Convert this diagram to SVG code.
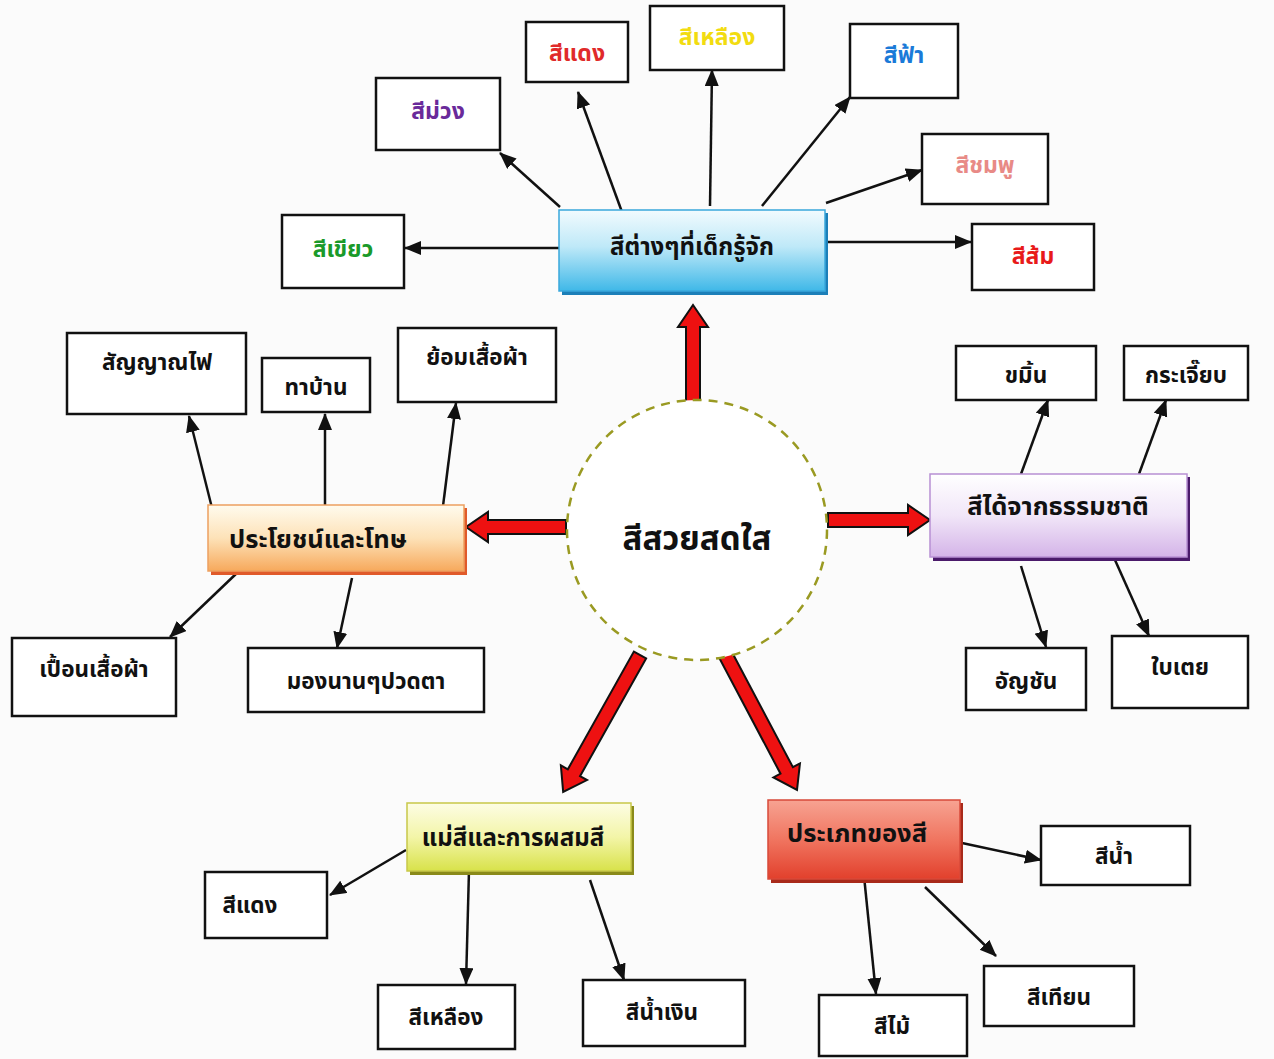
<svg xmlns="http://www.w3.org/2000/svg" width="1274" height="1059" viewBox="0 0 1274 1059">
<style>
.leaf{fill:#fff;stroke:#111;stroke-width:2.5}
.t{font-family:"Noto Sans Thai","Noto Sans","DejaVu Sans","Liberation Sans",sans-serif;font-weight:bold;text-anchor:middle;dominant-baseline:central}
.lt{font-size:22.5px;fill:#111}
.ht{font-size:25.5px;fill:#111}
.con{stroke:#111;stroke-width:2.5;fill:none;marker-end:url(#ah)}
.big{fill:#ee1111;stroke:#111;stroke-width:2;stroke-linejoin:miter}
</style>
<defs>
<marker id="ah" markerUnits="userSpaceOnUse" markerWidth="18" markerHeight="16" refX="16" refY="7" orient="auto">
<path d="M0,0 L17,7 L0,14 Z" fill="#111"/>
</marker>
<linearGradient id="gBlue" x1="0" y1="0" x2="0" y2="1"><stop offset="0" stop-color="#f2fbfe"/><stop offset="0.45" stop-color="#bfe9f8"/><stop offset="1" stop-color="#3fb8e8"/></linearGradient>
<linearGradient id="gOrange" x1="0" y1="0" x2="0" y2="1"><stop offset="0" stop-color="#fffbee"/><stop offset="0.5" stop-color="#fde2b8"/><stop offset="1" stop-color="#f7a95c"/></linearGradient>
<linearGradient id="gPurple" x1="0" y1="0" x2="0" y2="1"><stop offset="0" stop-color="#ffffff"/><stop offset="0.5" stop-color="#f1e6f8"/><stop offset="1" stop-color="#d4b4e8"/></linearGradient>
<linearGradient id="gYellow" x1="0" y1="0" x2="0" y2="1"><stop offset="0" stop-color="#fdfde4"/><stop offset="0.5" stop-color="#f3f5a8"/><stop offset="1" stop-color="#d8e24a"/></linearGradient>
<linearGradient id="gRed" x1="0" y1="0" x2="0" y2="1"><stop offset="0" stop-color="#f7a392"/><stop offset="0.5" stop-color="#f07560"/><stop offset="1" stop-color="#e2402c"/></linearGradient>
</defs>
<rect width="1274" height="1059" fill="#fbfbfb"/>

<g id="connectors">
<line class="con" x1="560" y1="248" x2="405" y2="248"/>
<line class="con" x1="560" y1="207" x2="500" y2="153"/>
<line class="con" x1="622" y1="212" x2="578" y2="92"/>
<line class="con" x1="710" y1="206" x2="712" y2="70"/>
<line class="con" x1="762" y1="206" x2="850" y2="97"/>
<line class="con" x1="826" y1="203" x2="922" y2="170"/>
<line class="con" x1="826" y1="242" x2="971" y2="242"/>
<line class="con" x1="212" y1="508" x2="189" y2="416"/>
<line class="con" x1="325" y1="507" x2="325" y2="414"/>
<line class="con" x1="443" y1="506" x2="456" y2="403"/>
<line class="con" x1="238" y1="572" x2="170" y2="637"/>
<line class="con" x1="352" y1="578" x2="337" y2="648"/>
<line class="con" x1="1021" y1="474" x2="1048" y2="400"/>
<line class="con" x1="1139" y1="474" x2="1166" y2="400"/>
<line class="con" x1="1021" y1="566" x2="1046" y2="647"/>
<line class="con" x1="1115" y1="560" x2="1149" y2="636"/>
<line class="con" x1="406" y1="850" x2="330" y2="895"/>
<line class="con" x1="469" y1="870" x2="466" y2="984"/>
<line class="con" x1="590" y1="880" x2="624" y2="980"/>
<line class="con" x1="962" y1="843" x2="1041" y2="860"/>
<line class="con" x1="864" y1="876" x2="876" y2="994"/>
<line class="con" x1="925" y1="887" x2="996" y2="956"/>
<polygon class="big" transform="translate(693,405) rotate(-90)" points="0,-7 78,-7 78,-15 100,0 78,15 78,7 0,7"/>
<polygon class="big" transform="translate(566,527) rotate(180)" points="0,-7 78,-7 78,-15 100,0 78,15 78,7 0,7"/>
<polygon class="big" transform="translate(828,520)" points="0,-7 80,-7 80,-15 102,0 80,15 80,7 0,7"/>
<polygon class="big" transform="translate(640,655) rotate(119.3)" points="0,-7 135,-7 135,-15 157,0 135,15 135,7 0,7"/>
<polygon class="big" transform="translate(724,652) rotate(62.1)" points="0,-7 134,-7 134,-15 156,0 134,15 134,7 0,7"/>
</g>

<g id="center">
<circle cx="697" cy="530" r="130" fill="#fff" stroke="#9a9a22" stroke-width="2.5" stroke-dasharray="9,7"/>
<text class="t" x="697" y="540" font-size="33" fill="#111">สีสวยสดใส</text>
</g>

<g id="hub-known">
<rect x="562" y="213" width="266" height="82" fill="#1c7fb8"/>
<rect x="559" y="210" width="266" height="81" fill="url(#gBlue)" stroke="#3aa8dc" stroke-width="1.5"/>
<text class="t" x="692" y="248" font-size="24" fill="#111">สีต่างๆที่เด็กรู้จัก</text>
</g>
<g id="n-green"><rect class="leaf" x="282" y="215" width="122" height="73"/><text class="t" x="343" y="250" font-size="23" fill="#1a9a2a">สีเขียว</text></g>
<g id="n-purple"><rect class="leaf" x="376" y="78" width="124" height="72"/><text class="t" x="438" y="112" font-size="23" fill="#6a2a9a">สีม่วง</text></g>
<g id="n-red"><rect class="leaf" x="526" y="22" width="102" height="60"/><text class="t" x="577" y="54" font-size="23" fill="#e02a2a">สีแดง</text></g>
<g id="n-yellow"><rect class="leaf" x="650" y="6" width="134" height="64"/><text class="t" x="717" y="38" font-size="23" fill="#f2dc10">สีเหลือง</text></g>
<g id="n-sky"><rect class="leaf" x="850" y="24" width="108" height="74"/><text class="t" x="904" y="56" font-size="23" fill="#1a7ad8">สีฟ้า</text></g>
<g id="n-pink"><rect class="leaf" x="922" y="134" width="126" height="70"/><text class="t" x="985" y="166" font-size="23" fill="#e88a86" font-weight="normal">สีชมพู</text></g>
<g id="n-orange"><rect class="leaf" x="972" y="224" width="122" height="66"/><text class="t" x="1033" y="257" font-size="23" fill="#e81a1a">สีส้ม</text></g>

<g id="hub-benefit">
<rect x="211" y="508" width="256" height="67" fill="#e05a2a"/>
<rect x="208" y="505" width="256" height="66" fill="url(#gOrange)" stroke="#eda060" stroke-width="1.5"/>
<text class="t ht" x="318" y="540">ประโยชน์และโทษ</text>
</g>
<g id="n-signal"><rect class="leaf" x="67" y="333" width="179" height="81"/><text class="t lt" x="157" y="363">สัญญาณไฟ</text></g>
<g id="n-paint"><rect class="leaf" x="262" y="358" width="108" height="54"/><text class="t lt" x="316" y="388">ทาบ้าน</text></g>
<g id="n-dye"><rect class="leaf" x="398" y="328" width="158" height="74"/><text class="t lt" x="477" y="358">ย้อมเสื้อผ้า</text></g>
<g id="n-stain"><rect class="leaf" x="12" y="638" width="164" height="78"/><text class="t lt" x="94" y="670">เปื้อนเสื้อผ้า</text></g>
<g id="n-eyes"><rect class="leaf" x="248" y="648" width="236" height="64"/><text class="t lt" x="366" y="682">มองนานๆปวดตา</text></g>

<g id="hub-nature">
<rect x="933" y="477" width="257" height="84" fill="#4a1a6a"/>
<rect x="930" y="474" width="257" height="83" fill="url(#gPurple)" stroke="#b890d4" stroke-width="1.5"/>
<text class="t ht" x="1058" y="507">สีได้จากธรรมชาติ</text>
</g>
<g id="n-turmeric"><rect class="leaf" x="956" y="346" width="140" height="54"/><text class="t lt" x="1026" y="376">ขมิ้น</text></g>
<g id="n-roselle"><rect class="leaf" x="1124" y="346" width="124" height="54"/><text class="t lt" x="1186" y="376">กระเจี๊ยบ</text></g>
<g id="n-pea"><rect class="leaf" x="966" y="648" width="120" height="62"/><text class="t lt" x="1026" y="682">อัญชัน</text></g>
<g id="n-pandan"><rect class="leaf" x="1112" y="636" width="136" height="72"/><text class="t lt" x="1180" y="668">ใบเตย</text></g>

<g id="hub-primary">
<rect x="410" y="806" width="224" height="69" fill="#8a8a1a"/>
<rect x="407" y="803" width="224" height="68" fill="url(#gYellow)" stroke="#c8c84a" stroke-width="1.5"/>
<text class="t" x="513" y="839" font-size="24" fill="#111">แม่สีและการผสมสี</text>
</g>
<g id="n-p-red"><rect class="leaf" x="205" y="872" width="122" height="66"/><text class="t lt" x="250" y="906">สีแดง</text></g>
<g id="n-p-yellow"><rect class="leaf" x="378" y="985" width="137" height="64"/><text class="t lt" x="446" y="1018">สีเหลือง</text></g>
<g id="n-p-blue"><rect class="leaf" x="583" y="980" width="162" height="66"/><text class="t lt" x="662" y="1013">สีน้ำเงิน</text></g>

<g id="hub-types">
<rect x="771" y="803" width="192" height="80" fill="#a82a1a"/>
<rect x="768" y="800" width="192" height="79" fill="url(#gRed)" stroke="#d84a3a" stroke-width="1.5"/>
<text class="t ht" x="857" y="834">ประเภทของสี</text>
</g>
<g id="n-water"><rect class="leaf" x="1041" y="826" width="149" height="59"/><text class="t lt" x="1114" y="857">สีน้ำ</text></g>
<g id="n-pencil"><rect class="leaf" x="819" y="995" width="148" height="61"/><text class="t lt" x="892" y="1027">สีไม้</text></g>
<g id="n-crayon"><rect class="leaf" x="984" y="966" width="150" height="60"/><text class="t lt" x="1059" y="998">สีเทียน</text></g>
</svg>
